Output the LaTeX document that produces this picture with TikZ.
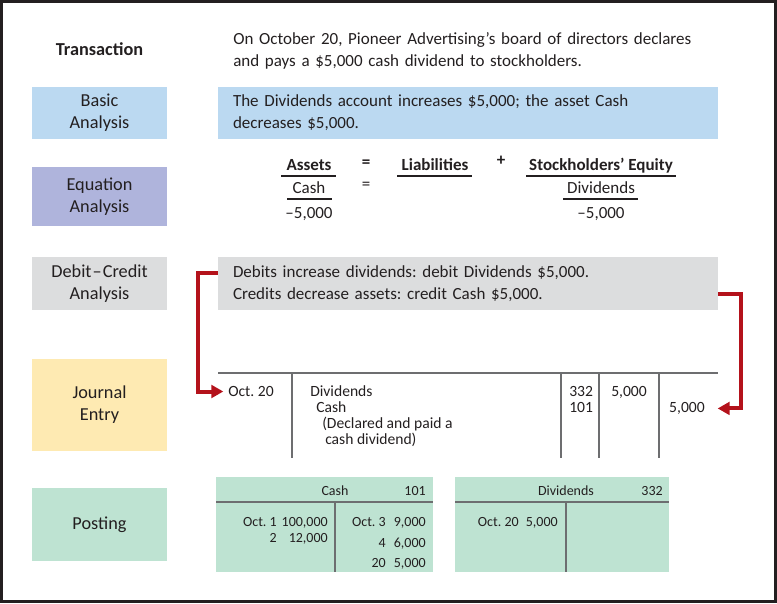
\documentclass[tikz,border=0pt]{standalone}
\usepackage{fontspec}
\setmainfont{Carlito}
\usetikzlibrary{arrows.meta, positioning, calc}
\definecolor{ink}{HTML}{231F20}
\definecolor{frame}{HTML}{231F20}
\definecolor{basicbl}{HTML}{BBD9F1}
\definecolor{eqlav}{HTML}{AFB4DC}
\definecolor{dcgray}{HTML}{DCDDDE}
\definecolor{jyel}{HTML}{FEEAB2}
\definecolor{postmint}{HTML}{BEE3D2}
\definecolor{arrred}{HTML}{B4121B}
\definecolor{rulegray}{HTML}{6D6E70}
\newcommand\fsmain{\fontsize{12.75}{16.5}\selectfont}
\newcommand\fstag{\fontsize{13.7}{16.5}\selectfont}
\newcommand\fsjrnl{\fontsize{11.7}{12}\selectfont}
\newcommand\fspost{\fontsize{10.5}{12}\selectfont}
\frenchspacing
\tikzset{
  tag/.style={inner sep=0pt, minimum width=101.25pt, align=center, font=\fstag, text=ink},
  wide/.style={inner xsep=11.25pt, inner ysep=0pt, minimum width=375pt, text width=352.5pt,
               align=left, font=\fsmain, text=ink},
  eqhd/.style={font=\fsmain\bfseries, text=ink, inner sep=0pt, anchor=base},
  eqtx/.style={font=\fsmain, text=ink, inner sep=0pt, anchor=base},
  jtx/.style={font=\fsjrnl, text=ink, inner sep=0pt, anchor=base west},
  ptx/.style={font=\fspost, text=ink, inner sep=0pt, anchor=base east},
  rule/.style={draw=rulegray, line width=1.3pt},
  uline/.style={draw=ink, line width=1pt},
  redarr/.style={draw=arrred, line width=3pt, -{Triangle[length=9pt, width=9.5pt]}},
}
\begin{document}
\begin{tikzpicture}[x=0.75pt, y=-0.75pt]
  \useasboundingbox (0,0) rectangle (777,603);
  \draw[draw=frame, line width=2.25pt] (1.5,1.5) rectangle (775.5,601.5);

  % row labels
  \node[tag, font=\fstag\bfseries] (trans) at (99.5,49) {Transaction};
  \node[tag, fill=basicbl, minimum height=39pt] (basic) at (99.5,113) {Basic\\Analysis};
  \node[tag, fill=eqlav, minimum height=44.25pt] (equation) at (99.5,196.5) {Equation\\Analysis};
  \node[tag, fill=dcgray, minimum height=39.75pt] (debcred) at (99.5,283.5) {Debit\kern0.8pt–\kern0.8pt Credit\\Analysis};
  \node[tag, fill=jyel, minimum height=69pt] (journal) at (99.5,405) {Journal\\Entry};
  \node[tag, fill=postmint, minimum height=54.75pt] (posting) at (99.5,524.5) {Posting};

  % transaction and analysis text
  \node[wide, anchor=west] (transtx) at (218,51)
    {On October 20, Pioneer Advertising’s board of directors declares\\and pays a \$5,000 cash dividend to stockholders.};
  \node[wide, fill=basicbl, minimum height=39pt] (basictx) at (468,113)
    {The Dividends account increases \$5,000; the asset Cash\\decreases \$5,000.};
  \node[wide, fill=dcgray, minimum height=39.75pt] (dctx) at (468,283.5)
    {Debits increase dividends: debit Dividends \$5,000.\\Credits decrease assets: credit Cash \$5,000.};

  % equation
  \node[eqhd] (assets) at (309,170) {Assets};
  \node[eqhd] (eqa) at (366,167) {=};
  \node[eqhd] (liab) at (435,170) {Liabilities};
  \node[eqhd] (plus) at (501,165) {+};
  \node[eqhd] (equity) at (601,170) {Stockholders’ Equity};
  \draw[uline] (281,176) -- (336,176);
  \draw[uline] (397,176) -- (472,176);
  \draw[uline] (526,176) -- (676,176);
  \node[eqtx] (eqcash) at (309,193) {Cash};
  \node[eqtx] (eqb) at (366,189) {=};
  \node[eqtx] (eqdiv) at (601,193) {Dividends};
  \draw[uline, line width=0.8pt] (287,199) -- (332,199);
  \draw[uline, line width=0.8pt] (563,199) -- (638,199);
  \node[eqtx] (eqcashv) at (309,218) {–5,000};
  \node[eqtx] (eqdivv) at (601,218) {–5,000};

  % journal entry
  \draw[rule] (218,373) -- (718,373);
  \foreach \x in {292,561,599,659} \draw[rule] (\x,373) -- (\x,458);
  \node[jtx] (jdate) at (228,396.5) {Oct. 20};
  \node[jtx] (jdiv) at (310,396.5) {Dividends};
  \node[jtx] (jcash) at (316,412.5) {Cash};
  \node[jtx] (jdesca) at (322,428.5) {(Declared and paid a};
  \node[jtx] (jdescb) at (325,444.5) {cash dividend)};
  \node[jtx] (jrefa) at (569,396.5) {332};
  \node[jtx] (jrefb) at (569,412.5) {101};
  \node[jtx, anchor=base] (jdr) at (629,396.5) {5,000};
  \node[jtx, anchor=base east] (jcr) at (705,412.5) {5,000};

  % red arrows
  \draw[redarr] ([yshift=7.9pt]dctx.west) -- ++(-20,0) |- ([xshift=-3.5pt]jdate.west);
  \draw[redarr] ([yshift=-7.5pt]dctx.east) -- ++(23,0) |- ([xshift=9.5pt]jcr.east);

  % posting: Cash
  \fill[postmint] (216,477) rectangle (433,572);
  \draw[rule] (216,502) -- (433,502);
  \draw[rule] (335,502) -- (335,572);
  \node[ptx, anchor=base] (cashhd) at (335,495) {Cash};
  \node[ptx] (cashno) at (426,495) {101};
  \node[ptx] (cda) at (277,526) {Oct. 1};
  \node[ptx] (cva) at (328,526) {100,000};
  \node[ptx] (cdb) at (277,542) {2};
  \node[ptx] (cvb) at (328,542) {12,000};
  \node[ptx] (cdc) at (386,526) {Oct. 3};
  \node[ptx] (cvc) at (426,526) {9,000};
  \node[ptx] (cdd) at (386,547) {4};
  \node[ptx] (cvd) at (426,547) {6,000};
  \node[ptx] (cde) at (386,567) {20};
  \node[ptx] (cve) at (426,567) {5,000};

  % posting: Dividends
  \fill[postmint] (455,477) rectangle (669,572);
  \draw[rule] (455,502) -- (669,502);
  \draw[rule] (566,502) -- (566,572);
  \node[ptx, anchor=base] (divhd) at (566,495) {Dividends};
  \node[ptx] (divno) at (663,495) {332};
  \node[ptx] (dda) at (519,526) {Oct. 20};
  \node[ptx] (dva) at (558,526) {5,000};
\end{tikzpicture}
\end{document}
